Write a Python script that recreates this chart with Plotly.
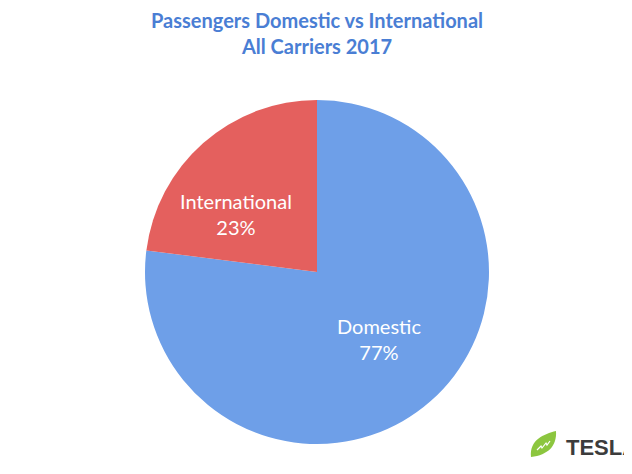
import plotly.graph_objects as go

labels = ["Domestic", "International"]
values = [77, 23]
colors = ["#6E9FE8", "#E4605E"]
label_pos = [(379, 339), (236, 214)]  # reference pixel centres of slice labels

# page body has an 8px margin, so the figure is drawn from (8, 8)
OFF = 8
W, H = 632 - OFF, 474 - 2 * OFF

def px(x):
    return (x - OFF) / W

def py(y):
    return 1 - (y - OFF) / H

fig = go.Figure(go.Pie(
    labels=labels,
    values=values,
    sort=False,
    direction="clockwise",
    rotation=0,
    marker=dict(colors=colors, line=dict(color="rgba(0,0,0,0)", width=0)),
    textinfo="none",
    domain=dict(x=[px(145), px(489)], y=[py(444), py(100)]),
    showlegend=False,
    hoverinfo="label+percent",
))

total = sum(values)
annotations = []
for lab, val, (lx, ly) in zip(labels, values, label_pos):
    annotations.append(dict(
        text=f"{lab}<br>{round(100 * val / total)}%", x=px(lx), y=py(ly),
        xref="paper", yref="paper", xanchor="center", yanchor="middle",
        showarrow=False, align="center",
        font=dict(family="Lato, Open Sans, sans-serif", size=20, color="white"),
    ))

annotations.append(dict(
    text="<b>Passengers Domestic vs International<br>All Carriers 2017</b>",
    x=px(317), y=py(33), xref="paper", yref="paper",
    xanchor="center", yanchor="middle", showarrow=False, align="center",
    font=dict(family="Lato, Open Sans, sans-serif", size=20, color="#4A7ED4"),
))

annotations.append(dict(
    text="<b>TESLA</b>", x=px(564), y=py(447), xref="paper", yref="paper",
    xanchor="left", yanchor="middle", showarrow=False,
    font=dict(family="Liberation Sans, Arial, sans-serif", size=22, color="#3C3C3C"),
))

# leaf shape for logo
leaf = (f"M {px(531)},{py(457)} "
        f"C {px(529)},{py(440)} {px(544)},{py(434)} {px(556)},{py(431)} "
        f"C {px(557)},{py(446)} {px(548)},{py(455)} {px(531)},{py(457)} Z")
vein = (f"M {px(537)},{py(450)} L {px(541)},{py(446)} L {px(542)},{py(448)} "
        f"L {px(546)},{py(443)} L {px(547)},{py(445)} L {px(550)},{py(441)}")

fig.update_layout(
    width=W, height=H,
    margin=dict(l=0, r=0, t=0, b=0),
    paper_bgcolor="white",
    plot_bgcolor="white",
    shapes=[
        dict(type="path", path=leaf, xref="paper", yref="paper",
             fillcolor="#8CC63F", line=dict(width=0)),
        dict(type="path", path=vein, xref="paper", yref="paper",
             line=dict(color="white", width=1.2)),
    ],
    annotations=annotations,
)

fig.write_html("out.html")
